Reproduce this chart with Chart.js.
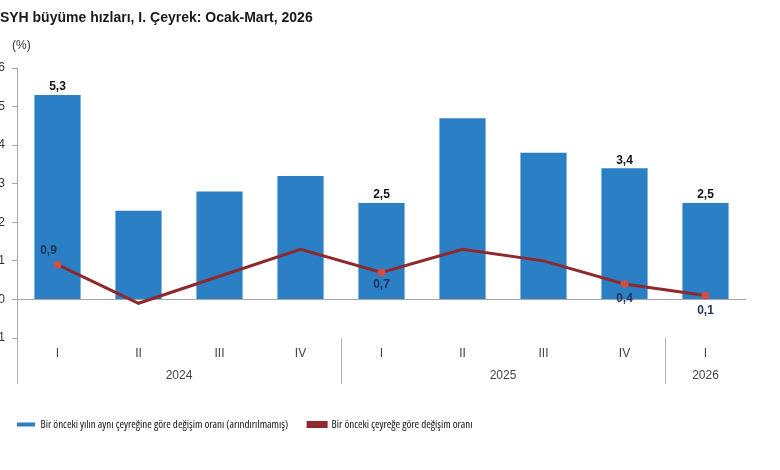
<!DOCTYPE html>
<html>
<head>
<meta charset="utf-8">
<script src="https://cdn.jsdelivr.net/npm/chart.js@4.4.1/dist/chart.umd.min.js"></script>
<style>
  html, body { margin: 0; padding: 0; background: #fff; overflow: hidden; }
  #wrap { position: absolute; left: -12px; top: 0; width: 792px; height: 470px; }
  #title { position: absolute; left: 1px; top: 9px; font: bold 14px Arial, "Liberation Sans", sans-serif; color: #1a1a1a; white-space: nowrap; }
  #unit { position: absolute; left: 24px; top: 38px; font: 12px Arial, "Liberation Sans", sans-serif; color: #333; }
</style>
</head>
<body>
<div id="wrap">
  <canvas id="myChart" width="792" height="470"></canvas>
  <div id="title">GSYH büyüme hızları, I. Çeyrek: Ocak-Mart, 2026</div>
  <div id="unit">(%)</div>
</div>
<script>
	var quarters = [ 'I', 'II', 'III', 'IV', 'I', 'II', 'III', 'IV', 'I' ];
	var years = [ '2024', '2025', '2026' ];
	var quartersPerYear = [ 4, 4, 1 ];
	var yoyGrowth = [ 5.3, 2.3, 2.8, 3.2, 2.5, 4.7, 3.8, 3.4, 2.5 ];
	var qoqGrowth = [ 0.9, -0.1, 0.6, 1.3, 0.7, 1.3, 1.0, 0.4, 0.1 ];
	var yTicks = [ -1, 0, 1, 2, 3, 4, 5, 6 ];
	var labelledIdx = [ 0, 4, 7, 8 ];

	// year centres and group borders on the category index scale
	var yearCentres = [], yearBorders = [ 0 ], start = 0;
	quartersPerYear.forEach(function(n) {
		yearCentres.push(start + (n - 1) / 2);
		start += n;
		yearBorders.push(start);
	});

	function fmt(v) { return v.toFixed(1).replace('.', ','); }

	var valueLabels = {
		id : 'valueLabels',
		afterDatasetsDraw : function(chart) {
			var c = chart.ctx;
			var bars = chart.getDatasetMeta(1).data;
			var pts = chart.getDatasetMeta(0).data;
			c.save();
			c.font = 'bold 12px Arial, "Liberation Sans", sans-serif';
			c.textAlign = 'center';
			labelledIdx.forEach(function(i) {
				c.fillStyle = '#111';
				c.textBaseline = 'bottom';
				c.fillText(fmt(yoyGrowth[i]), bars[i].x, bars[i].y - 2);
				c.fillStyle = '#1f3458';
				if (i === 0) {
					c.textBaseline = 'bottom';
					c.fillText(fmt(qoqGrowth[i]), pts[i].x - 9, pts[i].y - 8);
				} else {
					c.textBaseline = 'top';
					c.fillText(fmt(qoqGrowth[i]), pts[i].x, pts[i].y + (i === 4 ? 6 : 9));
				}
			});
			c.restore();
		}
	};

	var ctx = document.getElementById('myChart');
	var myChart = new Chart(ctx, {
		data : {
			labels : quarters,
			datasets : [ {
				type : 'line',
				label : 'Bir önceki çeyreğe göre değişim oranı',
				data : qoqGrowth,
				borderColor : '#8e2a2e',
				backgroundColor : '#9b2d30',
				borderWidth : 3,
				pointRadius : quarters.map(function(q, i) { return labelledIdx.indexOf(i) >= 0 ? 4 : 0; }),
				pointBackgroundColor : '#c8504d',
				pointBorderWidth : 0,
				tension : 0,
				order : 1
			}, {
				type : 'bar',
				label : 'Bir önceki yılın aynı çeyreğine göre değişim oranı (arındırılmamış)',
				data : yoyGrowth,
				backgroundColor : '#2a7fc5',
				categoryPercentage : 1,
				barPercentage : 0.57,
				order : 2
			} ]
		},
		options : {
			responsive : false,
			animation : false,
			layout : { padding : { top : 68, left : 9, right : 34, bottom : 30 } },
			plugins : {
				title : { display : false },
				tooltip : { enabled : false },
				legend : {
					position : 'bottom',
					align : 'start',
					reverse : true,
					labels : {
						boxWidth : 18,
						boxHeight : 4,
						padding : 20,
						color : '#111',
						// narrow look of the original legend text
						font : { family : '"Open Sans", Arial, sans-serif', size : 11, weight : 'condensed' }
					}
				}
			},
			scales : {
				x : {
					offset : true,
					border : { display : false },
					grid : {
						offset : true,
						drawOnChartArea : false,
						tickLength : 46,
						lineWidth : 1,
						color : function(c) { return yearBorders.indexOf(c.index) >= 0 ? '#b0b0b0' : 'rgba(0,0,0,0)'; }
					},
					ticks : {
						padding : -38,
						maxRotation : 0,
						autoSkip : false,
						color : '#444',
						font : { family : 'Arial, "Liberation Sans", sans-serif', size : 12 }
					},
					afterFit : function(s) { s.height = 23; }
				},
				x2 : {
					type : 'linear',
					position : 'bottom',
					weight : 1,
					min : -0.5,
					max : quarters.length - 0.5,
					border : { display : false },
					grid : { display : false, drawTicks : false },
					afterBuildTicks : function(s) {
						s.ticks = yearCentres.map(function(v) { return { value : v }; });
					},
					ticks : {
						padding : 7,
						autoSkip : false,
						maxRotation : 0,
						color : '#444',
						font : { family : 'Arial, "Liberation Sans", sans-serif', size : 12 },
						callback : function(v) { return years[yearCentres.indexOf(v)]; }
					},
					afterFit : function(s) { s.height = 38; }
				},
				y : {
					min : -1,
					max : 6,
					border : { display : true, color : '#a6a6a6' },
					grid : {
						tickLength : 5,
						tickColor : '#a6a6a6',
						color : function(c) { return c.tick && c.tick.value === 0 ? '#a6a6a6' : 'rgba(0,0,0,0)'; }
					},
					afterBuildTicks : function(s) {
						s.ticks = yTicks.map(function(v) { return { value : v }; });
					},
					ticks : {
						padding : 7,
						color : '#333',
						font : { family : 'Arial, "Liberation Sans", sans-serif', size : 12 }
					},
					afterFit : function(s) { s.width = 20; }
				}
			}
		},
		plugins : [ valueLabels ]
	});
</script>
</body>
</html>
